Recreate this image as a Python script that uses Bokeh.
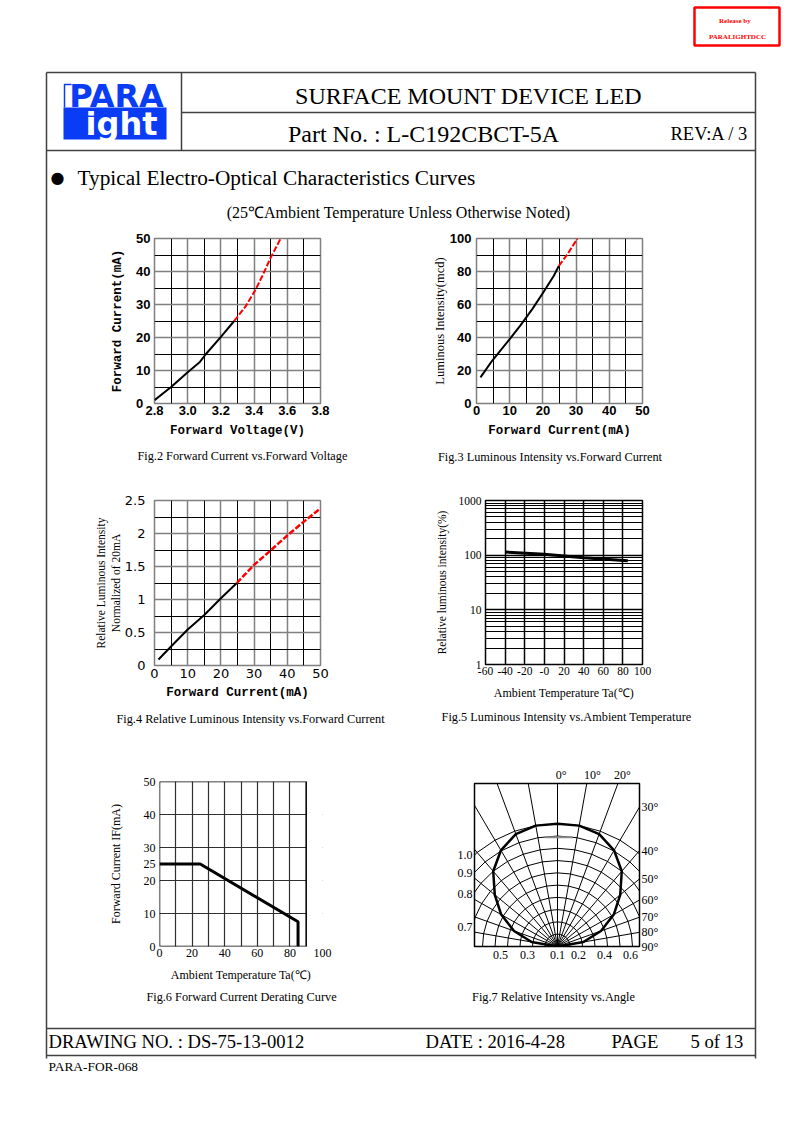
import numpy as np
from bokeh.plotting import figure
from bokeh.models import Range1d, FixedTicker, LinearAxis, BoxAnnotation, PrintfTickFormatter
from bokeh.layouts import column
from bokeh.core.properties import value
from bokeh.embed import file_html
from bokeh.resources import INLINE

# ---------------- data ----------------
# Fig.2 Forward current vs forward voltage
vf_solid = [2.80, 2.90, 3.00, 3.07, 3.11, 3.20, 3.28]
if_solid = [1.0, 5.0, 9.5, 12.4, 15.0, 20.2, 25.0]
vf_dash = [3.28, 3.35, 3.41, 3.45, 3.50, 3.56]
if_dash = [25.0, 29.5, 34.6, 38.7, 44.2, 50.0]
fig2_xticks = [2.8, 3.0, 3.2, 3.4, 3.6, 3.8]
fig2_xminor = [2.9, 3.1, 3.3, 3.5, 3.7]
fig2_yticks = [0, 10, 20, 30, 40, 50]
fig2_ylabels = ["0\u2007", "10", "20", "30", "40", "50"]
fig2_yminor = [5, 15, 25, 35, 45]

# Fig.3 Luminous intensity vs forward current
iv_if_solid = [1.2, 4.7, 10.0, 13.3, 16.8, 20.1, 23.3, 24.8]
iv_solid = [15.8, 25.9, 39.0, 47.5, 57.2, 67.3, 77.4, 83.4]
iv_if_dash = [24.8, 27.4, 30.4]
iv_dash = [83.4, 90.5, 100.0]
fig3_xticks = [0, 10, 20, 30, 40, 50]
fig3_xminor = [5, 15, 25, 35, 45]
fig3_yticks = [0, 20, 40, 60, 80, 100]
fig3_yminor = [10, 30, 50, 70, 90]

# Fig.4 Relative luminous intensity vs forward current
rel_if_solid = [1.2, 5.2, 10.0, 15.0, 20.0, 24.8]
rel_solid = [0.09, 0.30, 0.545, 0.765, 1.02, 1.25]
rel_if_dash = [24.8, 29.9, 34.9, 40.0, 45.0, 50.0]
rel_dash = [1.25, 1.52, 1.74, 1.97, 2.18, 2.38]
fig4_xticks = [0, 10, 20, 30, 40, 50]
fig4_xminor = [5, 15, 25, 35, 45]
fig4_yticks = [0, 0.5, 1, 1.5, 2, 2.5]
fig4_ylabels = ["0", "0.5", "1", "1.5", "2", "2.5"]
fig4_yminor = [0.25, 0.75, 1.25, 1.75, 2.25]

# Fig.5 Luminous intensity vs ambient temperature
ta_temp = [-40, 0, 40, 85]
ta_rel = [114, 104, 90, 79]
fig5_xticks = [-60, -40, -20, 0, 20, 40, 60, 80, 100]
fig5_xlabels = ["-60", "-40", "-20", "-0", "20", "40", "60", "80", "100"]
fig5_yticks = [1, 10, 100, 1000]
fig5_yminor = [2, 3, 4, 5, 6, 7, 8, 9, 20, 30, 40, 50, 60, 70, 80, 90,
               200, 300, 400, 500, 600, 700, 800, 900]

# Fig.6 Forward current derating curve
der_temp = [0, 25, 85, 85]
der_if = [25, 25, 7.5, 0]
fig6_xticks = [0, 20, 40, 60, 80, 100]
fig6_xgrid = [0, 10, 20, 30, 40, 50, 60, 70, 80, 90]
fig6_yticks = [0, 10, 20, 25, 30, 40, 50]
fig6_ygrid = [0, 10, 20, 30, 40, 50]
fig6_box_right = 90

# Fig.7 Relative intensity vs angle
pol_angles = [0, 10, 20, 30, 40, 50, 60, 70, 80, 90]
pol_rel = [1.0, 1.0, 0.975, 0.905, 0.80, 0.655, 0.52, 0.37, 0.21, 0.0]
ring_levels = [0.1, 0.2, 0.3, 0.4, 0.5, 0.6, 0.7, 0.8, 0.9, 1.0]
pol_top_pos = [0.03, 0.28, 0.52]
pol_top_labels = ["0°", "10°", "20°"]
pol_right_angles = [30, 40, 50, 60, 70, 80, 90]
pol_left_pos = [0.744, 0.60, 0.424, 0.16]
pol_left_labels = ["1.0", "0.9", "0.8", "0.7"]
pol_bottom_pos = [-0.456, -0.24, 0.0, 0.168, 0.376, 0.584]
pol_bottom_labels = ["0.5", "0.3", "0.1", "0.2", "0.4", "0.6"]
pol_mark_x = [-0.10, 0.12]
pol_mark_y = [0.89, 0.89]

SERIF = "Liberation Serif"
SANS = "Liberation Sans"
MONO = "Liberation Mono"

# ---------------- page (canvas pixels == page pixels) ----------------
PW, PH = 792, 1122
page = figure(width=PW, height=PH, x_range=Range1d(0, PW), y_range=Range1d(PH, 0),
              toolbar_location=None, output_backend="svg", min_border=0,
              x_axis_location=None, y_axis_location=None, outline_line_color=None)
page.grid.grid_line_color = None
try:
    page.frame_align = False
except Exception:
    pass


def txt(x, y, s, size, font=SERIF, align="left", color="black", style="normal", angle=0.0):
    page.text(x=[x], y=[y], text=[s], text_font=value(font), text_font_size=size,
              text_align=align, text_baseline="middle", text_color=color,
              text_font_style=style, angle=angle)


# frame lines
LC = "#404040"
page.segment(x0=[46, 181, 46, 181, 46, 755, 46, 46],
             y0=[72, 112, 150, 72, 72, 72, 1028, 1055],
             x1=[755, 755, 755, 181, 46, 755, 755, 755],
             y1=[72, 112, 150, 150, 1058, 1058, 1028, 1055],
             line_color=LC, line_width=1.5)

# release stamp
page.quad(left=[694], right=[779], top=[7], bottom=[45], fill_color=None,
          line_color="#ff0000", line_width=2.5)
txt(737, 20, "Release    by", "7px", align="center", color="#ff0000", style="bold")
txt(737, 36, "PARALIGHTDCC", "7px", align="center", color="#ff0000", style="bold")

# logo
BLUE = "#0a3cf5"
page.quad(left=[63], right=[166], top=[107], bottom=[139], fill_color=BLUE, line_color=None)
page.line(x=[71, 64, 64], y=[84, 84, 107], line_color=BLUE, line_width=1.5)
txt(116, 95, "PARA", "32px", font="DejaVu Sans", align="center", color=BLUE, style="bold")
txt(121, 123, "ight", "32px", font="DejaVu Sans", align="center", color="white", style="bold")

# header texts
txt(468, 95, "SURFACE MOUNT DEVICE LED", "24px", align="center")
txt(423, 133, "Part No. : L-C192CBCT-5A", "24px", align="center")
txt(670, 133, "REV:A / 3", "18.5px")
txt(57, 177, "●", "16px", font="DejaVu Sans", align="center")
txt(77, 177, "Typical Electro-Optical Characteristics Curves", "21.3px")
txt(398, 212, "(25℃Ambient Temperature Unless Otherwise Noted)", "16px", align="center")

# captions
CAP = "12.3px"
txt(242, 455, "Fig.2 Forward Current vs.Forward Voltage", CAP, align="center")
txt(551, 456, "Fig.3  Luminous Intensity vs.Forward Current", CAP, align="center")
txt(250, 718, "Fig.4 Relative Luminous Intensity vs.Forward Current", CAP, align="center")
txt(566, 716, "Fig.5 Luminous Intensity vs.Ambient Temperature", CAP, align="center")
txt(241, 996, "Fig.6 Forward Current Derating Curve", CAP, align="center")
txt(553, 996, "Fig.7 Relative Intensity vs.Angle", CAP, align="center")

# footer
txt(48, 1041, "DRAWING NO. : DS-75-13-0012", "18.6px")
txt(425, 1041, "DATE : 2016-4-28", "18.6px")
txt(611, 1041, "PAGE", "18.6px")
txt(690, 1041, "5 of 13", "18.6px")
txt(48, 1066, "PARA-FOR-068", "13.4px")


# ---------------- charts ----------------
def chart(frame, borders, xr, yr, y_log=False):
    fl, ft, fr, fb = frame
    bl, bt, br, bb = borders
    p = figure(width=bl + (fr - fl) + br, height=bt + (fb - ft) + bb,
               x_range=Range1d(*xr), y_range=Range1d(*yr),
               y_axis_type="log" if y_log else "linear",
               toolbar_location=None, output_backend="svg",
               min_border_left=bl, min_border_top=bt, min_border_right=br, min_border_bottom=bb)
    try:
        p.frame_align = False
    except Exception:
        pass
    p.border_fill_alpha = 0
    p.background_fill_color = "white"
    p.styles = {"position": "absolute", "left": f"{fl - bl}px", "top": f"{ft - bt}px"}
    return p


def style_axes(p, font, size, style="normal", lab_font=SERIF, lab_size="12px", lab_style="normal"):
    for ax in p.axis:
        ax.axis_line_color = None
        ax.major_tick_line_color = None
        ax.minor_tick_line_color = None
        ax.major_tick_out = 0
        ax.major_tick_in = 0
        ax.minor_tick_out = 0
        ax.minor_tick_in = 0
        ax.major_label_text_font = font
        ax.major_label_text_font_size = size
        ax.major_label_text_font_style = style
        ax.major_label_text_color = "black"
        ax.axis_label_text_font = lab_font
        ax.axis_label_text_font_size = lab_size
        ax.axis_label_text_font_style = lab_style
        ax.axis_label_text_color = "black"


def set_grid(p, xt, xm, yt, ym, major="#808080", minor="black", major_w=1.5, minor_w=1):
    tx = FixedTicker(ticks=xt, minor_ticks=xm)
    ty = FixedTicker(ticks=yt, minor_ticks=ym)
    p.xaxis.ticker = tx
    p.yaxis.ticker = ty
    p.xgrid.ticker = tx
    p.ygrid.ticker = ty
    for g in (p.xgrid, p.ygrid):
        g.grid_line_color = major
        g.grid_line_width = major_w
        g.grid_line_alpha = 1
        g.minor_grid_line_color = minor
        g.minor_grid_line_width = minor_w


# Fig.2
f2 = chart((154, 238, 320, 403), (54, 10, 20, 42), (2.8, 3.8), (0, 50))
set_grid(f2, fig2_xticks, fig2_xminor, fig2_yticks, fig2_yminor)
f2.outline_line_color = "#808080"
f2.outline_line_width = 1.5
f2.line(vf_solid, if_solid, line_color="black", line_width=2)
f2.line(vf_dash, if_dash, line_color="#ff0000", line_width=2, line_dash="6 2")
style_axes(f2, SANS, "13px", "bold", MONO, "12.5px", "bold")
f2.xaxis.formatter = PrintfTickFormatter(format="%.1f")
f2.yaxis.major_label_overrides = {t: s for t, s in zip(fig2_yticks, fig2_ylabels)}
f2.xaxis.axis_label = "Forward Voltage(V)"
f2.yaxis.axis_label = "Forward Current(mA)"
f2.xaxis.major_label_standoff = 2
f2.yaxis.major_label_standoff = 4
f2.xaxis.axis_label_standoff = 6
f2.yaxis.axis_label_standoff = 8

# Fig.3
f3 = chart((476, 238, 642, 403), (51, 10, 20, 42), (0, 50), (0, 100))
set_grid(f3, fig3_xticks, fig3_xminor, fig3_yticks, fig3_yminor)
f3.outline_line_color = "#808080"
f3.outline_line_width = 1.5
f3.line(iv_if_solid, iv_solid, line_color="black", line_width=2)
f3.line(iv_if_dash, iv_dash, line_color="#ff0000", line_width=2, line_dash="6 2")
style_axes(f3, SANS, "13px", "bold", MONO, "12.5px", "bold")
f3.xaxis.axis_label = "Forward Current(mA)"
f3.yaxis.axis_label = "Luminous Intensity(mcd)"
f3.yaxis.axis_label_text_font = SERIF
f3.yaxis.axis_label_text_font_style = "normal"
f3.xaxis.major_label_standoff = 2
f3.yaxis.major_label_standoff = 5
f3.xaxis.axis_label_standoff = 6
f3.yaxis.axis_label_standoff = 0

# Fig.4
f4 = chart((154, 500, 320, 665), (66, 10, 20, 42), (0, 50), (0, 2.5))
set_grid(f4, fig4_xticks, fig4_xminor, fig4_yticks, fig4_yminor)
f4.outline_line_color = "#808080"
f4.outline_line_width = 1.5
f4.line(rel_if_solid, rel_solid, line_color="black", line_width=2)
f4.line(rel_if_dash, rel_dash, line_color="#ff0000", line_width=2.5, line_dash="6 2")
style_axes(f4, "DejaVu Sans", "13px", "normal", MONO, "12.5px", "bold")
f4.yaxis.major_label_overrides = {t: s for t, s in zip(fig4_yticks, fig4_ylabels)}
f4.xaxis.axis_label = "Forward Current(mA)"
f4.yaxis.axis_label = "Relative Luminous Intensity\nNormalized of 20mA"
f4.yaxis.axis_label_text_font = SERIF
f4.yaxis.axis_label_text_font_style = "normal"
f4.yaxis.axis_label_text_font_size = "11.5px"
f4.xaxis.major_label_standoff = 3
f4.yaxis.major_label_standoff = 9
f4.xaxis.axis_label_standoff = 5
f4.yaxis.axis_label_standoff = 0

# Fig.5
f5 = chart((476, 500, 642, 664), (44, 10, 20, 42), (-60, 100), (1, 1000), y_log=True)
set_grid(f5, fig5_xticks, [], fig5_yticks, fig5_yminor, major="black", minor="black",
         major_w=1.5, minor_w=1)
f5.outline_line_color = "black"
f5.outline_line_width = 1.5
f5.line(ta_temp, ta_rel, line_color="black", line_width=3)
style_axes(f5, SERIF, "11.5px", "normal", SERIF, "12px", "normal")
f5.xaxis.major_label_overrides = {t: s for t, s in zip(fig5_xticks, fig5_xlabels)}
f5.yaxis.formatter = PrintfTickFormatter(format="%d")
f5.xaxis.axis_label = "Ambient Temperature Ta(℃)"
f5.yaxis.axis_label = "Relative luminous intensity(%)"
f5.yaxis.axis_label_text_font_size = "11.5px"
f5.xaxis.major_label_standoff = 2
f5.yaxis.major_label_standoff = 4
f5.xaxis.axis_label_standoff = 8
f5.yaxis.axis_label_standoff = 8

# Fig.6
f6 = chart((155, 781, 322, 946), (50, 10, 24, 42), (0, 100), (0, 50))
f6.xaxis.ticker = FixedTicker(ticks=fig6_xticks)
f6.yaxis.ticker = FixedTicker(ticks=fig6_yticks)
f6.xgrid.ticker = FixedTicker(ticks=fig6_xgrid)
f6.ygrid.ticker = FixedTicker(ticks=fig6_ygrid)
for g in (f6.xgrid, f6.ygrid):
    g.grid_line_color = "#303030"
    g.grid_line_width = 1.2
    g.grid_line_alpha = 1
f6.outline_line_color = None
f6.add_layout(BoxAnnotation(left=fig6_box_right, right=100, bottom=0, top=50,
                            fill_color="white", fill_alpha=1, line_color=None, level="underlay"))
f6.add_layout(BoxAnnotation(left=0, right=fig6_box_right, bottom=0, top=50,
                            fill_alpha=0, line_color="black", line_width=1.5, line_alpha=1))
f6.line(der_temp, der_if, line_color="black", line_width=3)
style_axes(f6, SERIF, "12px", "normal", SERIF, "12px", "normal")
f6.xaxis.axis_label = "Ambient Temperature Ta(℃)"
f6.yaxis.axis_label = "Forward Current IF(mA)"
f6.xaxis.major_label_standoff = 2
f6.yaxis.major_label_standoff = 4
f6.xaxis.axis_label_standoff = 8
f6.yaxis.axis_label_standoff = 18

# Fig.7 polar diagram
x0, x1, ytop = -0.664, 0.656, 1.328
f7 = chart((474, 780, 639, 946), (24, 16, 28, 24), (x0, x1), (0, ytop))
f7.grid.grid_line_color = None
f7.outline_line_color = "black"
f7.outline_line_width = 1.5
half = np.array(pol_angles, dtype=float)
ang = np.radians(np.concatenate([-half[::-1], half[1:]]))
rel = np.concatenate([np.array(pol_rel)[::-1], np.array(pol_rel)[1:]])
f7.segment(x0=np.zeros(len(ang)), y0=np.zeros(len(ang)),
           x1=2 * np.sin(ang), y1=2 * np.cos(ang), line_color="black", line_width=1)
f7.multi_line(xs=[list(r * np.sin(ang)) for r in ring_levels],
              ys=[list(r * np.cos(ang)) for r in ring_levels],
              line_color="black", line_width=1)
f7.line(pol_mark_x, pol_mark_y, line_color="#8a8a8a", line_width=2)
f7.line(rel * np.sin(ang), rel * np.cos(ang), line_color="black", line_width=2.5)

right_pos = [round(float(x1 / np.tan(np.radians(a))), 4) if a < 90 else 0.0 for a in pol_right_angles]
right_labels = [f"{a}°" for a in pol_right_angles]
bottom_ax = f7.below[0]
left_ax = f7.left[0]
top_ax = LinearAxis()
right_ax = LinearAxis()
f7.add_layout(top_ax, "above")
f7.add_layout(right_ax, "right")
bottom_ax.ticker = FixedTicker(ticks=pol_bottom_pos)
bottom_ax.major_label_overrides = dict(zip(pol_bottom_pos, pol_bottom_labels))
left_ax.ticker = FixedTicker(ticks=pol_left_pos)
left_ax.major_label_overrides = dict(zip(pol_left_pos, pol_left_labels))
top_ax.ticker = FixedTicker(ticks=pol_top_pos)
top_ax.major_label_overrides = dict(zip(pol_top_pos, pol_top_labels))
right_ax.ticker = FixedTicker(ticks=right_pos)
right_ax.major_label_overrides = dict(zip(right_pos, right_labels))
style_axes(f7, SERIF, "12px", "normal")
for ax in f7.axis:
    ax.major_label_standoff = 2
bottom_ax.major_label_standoff = 4

layout = column(page, f2, f3, f4, f5, f6, f7, styles={"position": "relative"})

open("out.html", "w").write(file_html(layout, INLINE))
